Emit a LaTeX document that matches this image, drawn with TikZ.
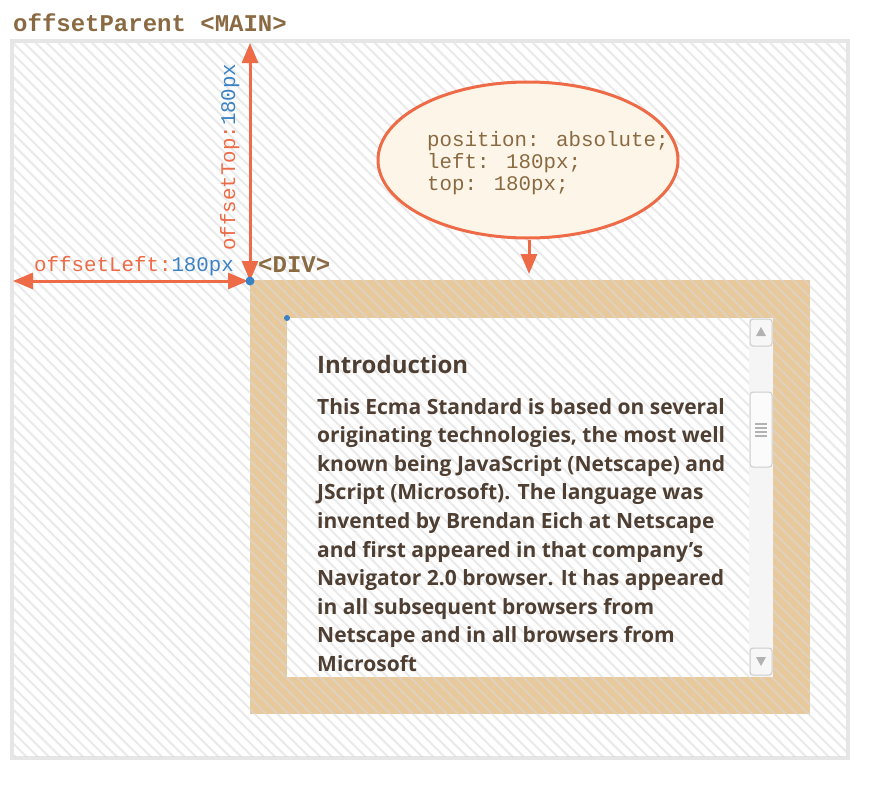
\documentclass[tikz,border=0pt]{standalone}
\usepackage{fontspec}
\setmainfont{Open Sans}
\newfontfamily\codefont{Liberation Mono}
\usetikzlibrary{arrows.meta,shapes.geometric}

\definecolor{arrowred}{HTML}{EE6B47}
\definecolor{valueblue}{HTML}{3B82C4}
\definecolor{titlebrown}{HTML}{8A6A43}
\definecolor{textbrown}{HTML}{4F3F33}
\definecolor{divtan}{HTML}{E8C99B}
\definecolor{bubblecream}{HTML}{FDF6E8}
\definecolor{mainborder}{HTML}{E6E6E6}

\tikzset{
	offarrow/.style={draw=arrowred, line width=3pt},
	bigtip/.style={arrows={-Triangle[length=20pt,width=16pt]}},
	twotips/.style={arrows={Triangle[length=20pt,width=16pt]-Triangle[length=20pt,width=16pt]}},
	hatchline/.style={draw=gray!30, line width=2pt, opacity=0.55},
	titletext/.style={inner sep=0pt, text=titlebrown, font=\codefont\bfseries\fontsize{24}{28}\selectfont},
	labeltext/.style={inner sep=0pt, text=arrowred, font=\codefont\fontsize{20.8}{24}\selectfont},
	cssbubble/.style={ellipse, draw=arrowred, line width=3pt, fill=bubblecream, minimum width=300pt, minimum height=156pt, inner sep=0pt},
	scrollbtn/.style={draw=gray!40, fill=gray!6, rounded corners=3pt, line width=1pt},
	scrollglyph/.style={fill=gray!60},
	bluedot/.style={fill=valueblue}
}

\begin{document}
\begin{tikzpicture}[x=1pt, y=-1pt]
	\useasboundingbox (0,0) rectangle (876,787);
	
	% ==================== MAIN ====================
	\fill[white] (0,0) rectangle (876,787);
	\draw[mainborder, line width=4pt] (12,41) rectangle (848,758);
	
	% --- DIV: rand en inhoud ---
	\fill[divtan] (250,280) rectangle (810,714);
	\fill[white] (287,318) rectangle (773,677);
	
	% arcering over alles binnen MAIN
	\begin{scope}
		\clip (14,43) rectangle (846,756);
		\foreach \i in {-66,...,76}
			\draw[hatchline] ({\i*11.3},41) -- ++(720,720);
	\end{scope}
	
	% --- scrollbar ---
	\fill[gray!8] (749,318) rectangle (773,677);
	\draw[scrollbtn] (750,319) rectangle (772,346);
	\fill[scrollglyph] (761,327) -- (766,336) -- (756,336) -- cycle;
	\draw[scrollbtn] (750,648) rectangle (772,675);
	\fill[scrollglyph] (756,657) -- (766,657) -- (761,666) -- cycle;
	\draw[scrollbtn, fill=gray!3] (750,392) rectangle (772,467);
	\foreach \y in {424,428,432,436}
		\draw[gray!60, line width=1.5pt] (755,\y) -- (767,\y);
	
	% --- teksten ---
	\node[titletext, anchor=base west] (title) at (13,31) {offsetParent <MAIN>};
	\node[titletext, anchor=base west] (divlabel) at (258,272) {<DIV>};
	
	\node[anchor=base west, inner sep=0pt, text=textbrown, font=\bfseries\fontsize{24}{28}\selectfont] (intro) at (317,373) {Introduction};
	\node[anchor=north west, inner sep=0pt, align=left, text=textbrown, font=\bfseries\fontsize{21}{28.6}\selectfont] (para) at (317,398)
	{This Ecma Standard is based on several\\
		originating technologies, the most well\\
		known being JavaScript (Netscape) and\\
		JScript (Microsoft). The language was\\
		invented by Brendan Eich at Netscape\\
		and first appeared in that company’s\\
		Navigator 2.0 browser. It has appeared\\
		in all subsequent browsers from\\
		Netscape and in all browsers from\\
		Microsoft};
	
	% --- pijlen offsetTop / offsetLeft ---
	\coordinate (maintop) at (250,43);
	\coordinate (mainleft) at (13,281);
	\coordinate (divcorner) at (250,281);
	\draw[offarrow, twotips] (maintop) -- (divcorner);
	\draw[offarrow, twotips, shorten >=2pt] (mainleft) -- (divcorner);
	
	\node[labeltext, anchor=base west] (leftlabel) at (34,271) {offsetLeft:\textcolor{valueblue}{180px}};
	\node[labeltext, anchor=base west, rotate=90] (toplabel) at (235,251) {offsetTop:\textcolor{valueblue}{180px}};
	
	\fill[bluedot] (divcorner) circle (4.5);
	\fill[bluedot] (287,318) circle (3);
	
	% --- ballon met CSS ---
	\node[cssbubble] (css) at (528,160) {};
	\node[anchor=north west, inner sep=0pt, align=left, text=titlebrown, font=\codefont\fontsize{20.8}{22.3}\selectfont] (csstext) at (427,131)
	{position: absolute;\\left: 180px;\\top: 180px;};
	\coordinate (divtop) at (529,274);
	\draw[offarrow, bigtip] (css.south -| divtop) -- (divtop);
\end{tikzpicture}
\end{document}
